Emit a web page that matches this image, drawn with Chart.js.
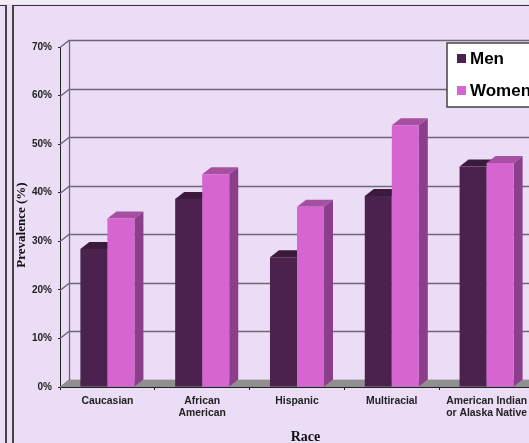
<!DOCTYPE html>
<html>
<head>
<meta charset="utf-8">
<script src="https://cdn.jsdelivr.net/npm/chart.js@4"></script>
<style>
html, body { margin: 0; padding: 0; width: 529px; height: 443px; overflow: hidden; background: #eaddf5; }
#topStrip { position: absolute; left: 0; top: 0; width: 529px; height: 4px; background: #f1ebf6; }
#frameLeft { position: absolute; left: 0; top: 5px; width: 5px; height: 440px; border-right: 2px solid #444; border-top: 1px solid #333; }
#frameMain { position: absolute; left: 12px; top: 5px; width: 530px; height: 440px; border-left: 2px solid #444; border-top: 1px solid #333; }
#chart { position: absolute; left: 0; top: 0; }
</style>
</head>
<body>
<div id="topStrip"></div>
<div id="frameLeft"></div>
<div id="frameMain"></div>
<canvas id="chart" width="545" height="443"></canvas>
<script>
const categories = [['Caucasian'], ['African', 'American'], ['Hispanic'], ['Multiracial'], ['American Indian', 'or Alaska Native']];
const menValues = [28.4, 38.7, 26.7, 39.3, 45.4];
const womenValues = [34.7, 43.8, 37.1, 53.9, 46.1];
const yTicks = [0, 10, 20, 30, 40, 50, 60, 70];

const depthX = 9;
const depthY = 7;

// top and side faces of one dataset's bars
function drawFaces(chart, index) {
    const ctx = chart.ctx;
    const ds = chart.data.datasets[index];
    ctx.save();
    chart.getDatasetMeta(index).data.forEach(bar => {
        const l = bar.x - bar.width / 2;
        const r = bar.x + bar.width / 2;
        ctx.fillStyle = ds.topColor;
        ctx.beginPath();
        ctx.moveTo(l, bar.y);
        ctx.lineTo(l + depthX, bar.y - depthY);
        ctx.lineTo(r + depthX, bar.y - depthY);
        ctx.lineTo(r, bar.y);
        ctx.closePath();
        ctx.fill();
        ctx.fillStyle = ds.sideColor;
        ctx.beginPath();
        ctx.moveTo(r, bar.y);
        ctx.lineTo(r + depthX, bar.y - depthY);
        ctx.lineTo(r + depthX, bar.base - depthY);
        ctx.lineTo(r, bar.base);
        ctx.closePath();
        ctx.fill();
    });
    ctx.restore();
}

const depthPlugin = {
    id: 'depth',
    beforeDatasetsDraw(chart) {
        const ctx = chart.ctx;
        const x = chart.scales.x;
        const y = chart.scales.y;
        ctx.save();
        // wall grid lines
        ctx.strokeStyle = '#6f6478';
        ctx.lineWidth = 1.3;
        yTicks.forEach(t => {
            const py = Math.round(y.getPixelForValue(t)) + 0.5;
            ctx.beginPath();
            ctx.moveTo(x.left, py);
            ctx.lineTo(x.left + depthX, py - depthY);
            ctx.lineTo(x.right + depthX, py - depthY);
            ctx.stroke();
        });
        ctx.beginPath();
        ctx.moveTo(x.left + depthX + 0.5, y.top - depthY);
        ctx.lineTo(x.left + depthX + 0.5, y.bottom - depthY);
        ctx.stroke();
        // floor
        ctx.fillStyle = '#8f8f8f';
        ctx.beginPath();
        ctx.moveTo(x.left, y.bottom);
        ctx.lineTo(x.left + depthX, y.bottom - depthY);
        ctx.lineTo(x.right + depthX, y.bottom - depthY);
        ctx.lineTo(x.right, y.bottom);
        ctx.closePath();
        ctx.fill();
        ctx.restore();
    },
    // Chart.js paints the first dataset last, women have to sit on top of men
    beforeDatasetDraw(chart, args) {
        if (args.index === 1) return false;
        drawFaces(chart, args.index);
    },
    afterDatasetDraw(chart, args) {
        if (args.index !== 0) return;
        drawFaces(chart, 1);
        chart.getDatasetMeta(1).data.forEach(bar => bar.draw(chart.ctx));
    },
    afterDraw(chart) {
        const ctx = chart.ctx;
        ctx.save();
        // axis titles
        ctx.fillStyle = '#111';
        ctx.textAlign = 'center';
        ctx.textBaseline = 'middle';
        ctx.font = 'bold 14px "Liberation Serif"';
        ctx.fillText('Race', 305.5, 437);
        ctx.font = 'bold 13px "Liberation Serif"';
        ctx.save();
        ctx.translate(22, 225);
        ctx.rotate(-Math.PI / 2);
        ctx.fillText('Prevalence (%)', 0, 0);
        ctx.restore();
        // legend box
        ctx.fillStyle = '#ffffff';
        ctx.strokeStyle = '#444';
        ctx.lineWidth = 1.5;
        ctx.fillRect(447, 43, 100, 64);
        ctx.strokeRect(447, 43, 100, 64);
        ctx.textAlign = 'left';
        ctx.font = 'bold 17px "Liberation Sans"';
        chart.data.datasets.forEach((ds, i) => {
            const top = 54 + i * 32;
            ctx.fillStyle = ds.backgroundColor;
            ctx.fillRect(457, top, 9, 9);
            ctx.fillStyle = '#000';
            ctx.fillText(ds.label, 470, top + 5);
        });
        ctx.restore();
    }
};

new Chart(document.getElementById('chart'), {
    type: 'bar',
    data: {
        labels: categories,
        datasets: [
            { label: 'Men', data: menValues, backgroundColor: '#4b224d', topColor: '#3c1a3e', sideColor: '#3c1a3e' },
            { label: 'Women', data: womenValues, backgroundColor: '#d665d2', topColor: '#a64fa3', sideColor: '#8b3f8a' }
        ]
    },
    plugins: [depthPlugin],
    options: {
        responsive: false,
        animation: false,
        datasets: { bar: { categoryPercentage: 0.57, barPercentage: 1 } },
        layout: { padding: { left: 0, right: 11, top: 47, bottom: 0 } },
        plugins: {
            legend: { display: false },
            tooltip: { enabled: false }
        },
        scales: {
            x: {
                offset: true,
                afterFit(axis) { axis.height = 56; },
                grid: { drawOnChartArea: false, tickLength: 3, color: '#222' },
                border: { color: '#222' },
                ticks: { color: '#222', font: { family: 'Liberation Sans', size: 10.4, weight: 'bold', lineHeight: 1.15 }, maxRotation: 0, autoSkip: false, padding: 5 }
            },
            y: {
                min: 0,
                max: 70,
                afterBuildTicks(axis) { axis.ticks = yTicks.map(v => ({ value: v })); },
                afterFit(axis) { axis.width = 60; },
                grid: { drawOnChartArea: false, tickLength: 2, color: '#222' },
                border: { color: '#222' },
                ticks: { color: '#222', callback: v => v + '%', font: { family: 'Liberation Sans', size: 10, weight: 'bold' }, padding: 6 }
            }
        }
    }
});
</script>
</body>
</html>
